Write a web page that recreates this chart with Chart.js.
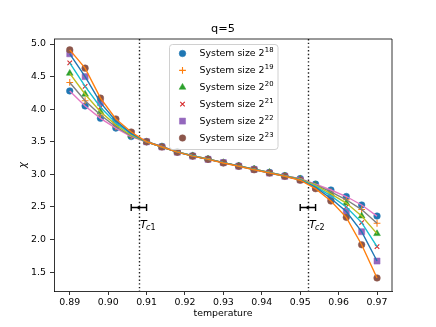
<!DOCTYPE html>
<html>
<head>
<meta charset="utf-8">
<script src="https://cdn.jsdelivr.net/npm/chart.js@4/dist/chart.umd.min.js"></script>
<style>
html,body{margin:0;padding:0;background:#fff;}
canvas{display:block;}
</style>
</head>
<body>
<canvas id="c" width="436" height="327"></canvas>
<script>
// ---- data ----
const temperatures = [0.890, 0.894, 0.898, 0.902, 0.906, 0.910, 0.914, 0.918, 0.922, 0.926, 0.930,
                      0.934, 0.938, 0.942, 0.946, 0.950, 0.954, 0.958, 0.962, 0.966, 0.970];
const chi18 = [4.28, 4.05, 3.86, 3.71, 3.58, 3.50, 3.43, 3.345, 3.285, 3.235, 3.18, 3.13, 3.08, 3.03, 2.98, 2.935, 2.85, 2.76, 2.66, 2.53, 2.36];
const chi19 = [4.41, 4.13, 3.91, 3.73, 3.59, 3.50, 3.43, 3.345, 3.285, 3.235, 3.18, 3.13, 3.08, 3.03, 2.98, 2.93, 2.84, 2.73, 2.61, 2.46, 2.25];
const chi20 = [4.55, 4.23, 3.96, 3.76, 3.60, 3.50, 3.42, 3.345, 3.285, 3.235, 3.18, 3.13, 3.08, 3.03, 2.975, 2.925, 2.83, 2.70, 2.56, 2.36, 2.09];
const chi21 = [4.71, 4.35, 4.03, 3.79, 3.62, 3.50, 3.42, 3.34, 3.285, 3.23, 3.18, 3.13, 3.075, 3.025, 2.975, 2.92, 2.81, 2.67, 2.50, 2.26, 1.89];
const chi22 = [4.85, 4.50, 4.10, 3.82, 3.63, 3.50, 3.42, 3.34, 3.28, 3.23, 3.18, 3.125, 3.075, 3.02, 2.97, 2.915, 2.80, 2.63, 2.43, 2.12, 1.67];
const chi23 = [4.91, 4.63, 4.17, 3.85, 3.65, 3.50, 3.42, 3.34, 3.28, 3.23, 3.175, 3.125, 3.07, 3.02, 2.97, 2.91, 2.78, 2.59, 2.34, 1.92, 1.41];
const seriesExponents = ["18", "19", "20", "21", "22", "23"];
const xTickValues = [0.89, 0.90, 0.91, 0.92, 0.93, 0.94, 0.95, 0.96, 0.97];
const yTickValues = [1.5, 2.0, 2.5, 3.0, 3.5, 4.0, 4.5, 5.0];
const criticalTemps = [0.908, 0.952];
const criticalErrors = [0.002, 0.002];
const criticalLabels = ["1", "2"];
const criticalY = 2.5;
const titleText = "q=5";
const xLabel = "temperature";
const yLabel = "\u03c7";

// ---- styling ----
const allSeries = [chi18, chi19, chi20, chi21, chi22, chi23];
const markerColors = ['#1f77b4', '#ff7f0e', '#2ca02c', '#d62728', '#9467bd', '#8c564b'];
const lineColors = ['#e377c2', '#7f7f7f', '#bcbd22', '#17becf', '#1f77b4', '#ff7f0e'];
const markerStyles = ['circle', 'cross', 'triangle', 'crossRot', 'rect', 'circle'];
const markerRadii = [3.3, 3.4, 3.9, 3.2, 4.3, 3.3];

const FONT = "'DejaVu Sans', sans-serif";

const datasets = [];
allSeries.forEach((s, i) => {
  const pts = temperatures.map((t, k) => ({x: t, y: s[k]}));
  const lined = markerStyles[i] === 'cross' || markerStyles[i] === 'crossRot';
  datasets.push({
    label: 'System size 2^' + seriesExponents[i],
    data: pts,
    showLine: false,
    pointStyle: markerStyles[i],
    pointRadius: markerRadii[i],
    pointBackgroundColor: markerColors[i],
    pointBorderColor: markerColors[i],
    pointBorderWidth: lined ? 1.1 : 0.5,
    order: 30 - i
  });
});
allSeries.forEach((s, i) => {
  const pts = temperatures.map((t, k) => ({x: t, y: s[k]}));
  datasets.push({
    label: 'fit ' + seriesExponents[i],
    data: pts,
    showLine: true,
    pointRadius: 0,
    borderColor: lineColors[i],
    borderWidth: 1.4,
    fill: false,
    tension: 0,
    order: 10 - i
  });
});

function drawMarker(ctx, style, r, color, x, y) {
  ctx.save();
  ctx.fillStyle = color;
  ctx.strokeStyle = color;
  const lined = style === 'cross' || style === 'crossRot';
  ctx.lineWidth = lined ? 1.1 : 0.5;
  Chart.helpers.drawPoint(ctx, {pointStyle: style, radius: r, rotation: 0, borderWidth: ctx.lineWidth}, x, y);
  ctx.restore();
}

const decorPlugin = {
  id: 'decor',
  beforeDatasetsDraw(chart) {
    const ctx = chart.ctx, a = chart.chartArea, xs = chart.scales.x;
    ctx.save();
    ctx.strokeStyle = '#222';
    ctx.lineWidth = 1.4;
    ctx.setLineDash([1.4, 2.3]);
    criticalTemps.forEach(t => {
      const px = Math.round(xs.getPixelForValue(t)) + 0.5;
      ctx.beginPath();
      ctx.moveTo(px, a.top);
      ctx.lineTo(px, a.bottom);
      ctx.stroke();
    });
    ctx.restore();
  },
  afterDatasetsDraw(chart) {
    const ctx = chart.ctx, a = chart.chartArea, xs = chart.scales.x, ys = chart.scales.y;
    ctx.save();
    // error bars
    criticalTemps.forEach((t, i) => {
      const cx = xs.getPixelForValue(t);
      const cy = Math.round(ys.getPixelForValue(criticalY)) + 0.5;
      const x0 = xs.getPixelForValue(t - criticalErrors[i]);
      const x1 = xs.getPixelForValue(t + criticalErrors[i]);
      ctx.strokeStyle = '#000';
      ctx.lineWidth = 1.4;
      ctx.beginPath();
      ctx.moveTo(x0, cy); ctx.lineTo(x1, cy);
      ctx.moveTo(x0, cy - 3.5); ctx.lineTo(x0, cy + 3.5);
      ctx.moveTo(x1, cy - 3.5); ctx.lineTo(x1, cy + 3.5);
      ctx.stroke();
      ctx.fillStyle = '#000';
      ctx.beginPath();
      ctx.arc(cx, cy, 1.6, 0, Math.PI * 2);
      ctx.fill();
      // label T_c
      const lx = cx + 1, base = cy + 20;
      ctx.textBaseline = 'alphabetic';
      ctx.textAlign = 'left';
      ctx.font = "italic 11px " + FONT;
      ctx.fillText('T', lx, base);
      const tw = ctx.measureText('T').width;
      ctx.font = "italic 8px " + FONT;
      ctx.fillText('c', lx + tw - 0.5, base + 2.5);
      const cw = ctx.measureText('c').width;
      ctx.font = "8px " + FONT;
      ctx.fillText(criticalLabels[i], lx + tw - 0.5 + cw, base + 2.5);
    });
    // top and right spines
    ctx.strokeStyle = '#000';
    ctx.lineWidth = 0.8;
    ctx.beginPath();
    ctx.moveTo(a.left, a.top); ctx.lineTo(a.right, a.top); ctx.lineTo(a.right, a.bottom);
    ctx.stroke();
    // title
    ctx.fillStyle = '#000';
    ctx.textAlign = 'center';
    ctx.textBaseline = 'middle';
    ctx.font = "11.3px " + FONT;
    ctx.fillText(titleText, (a.left + a.right) / 2, 29);
    // x label
    ctx.font = "9.4px " + FONT;
    ctx.fillText(xLabel, (a.left + a.right) / 2, 314);
    // y label
    ctx.save();
    ctx.translate(23, (a.top + a.bottom) / 2);
    ctx.rotate(-Math.PI / 2);
    ctx.font = "italic 10px " + FONT;
    ctx.fillText(yLabel, 0, 0);
    ctx.restore();
    // legend
    const lx0 = 169, ly0 = 44, lw = 108.5, lh = 105;
    ctx.beginPath();
    ctx.roundRect(lx0 + 0.5, ly0 + 0.5, lw, lh, 3);
    ctx.fillStyle = 'rgba(255,255,255,0.8)';
    ctx.fill();
    ctx.strokeStyle = '#d0d0d0';
    ctx.lineWidth = 1;
    ctx.stroke();
    seriesExponents.forEach((e, i) => {
      const ey = 53.5 + i * 16.9;
      drawMarker(ctx, markerStyles[i], markerRadii[i], markerColors[i], 182.5, ey);
      ctx.fillStyle = '#000';
      ctx.textAlign = 'left';
      ctx.textBaseline = 'middle';
      ctx.font = "9.4px " + FONT;
      const base = 'System size 2';
      ctx.fillText(base, 199.5, ey + 0.5);
      const w = ctx.measureText(base).width;
      ctx.font = "6.8px " + FONT;
      ctx.fillText(e, 199.5 + w + 0.3, ey - 3.2);
    });
    ctx.restore();
  }
};

new Chart(document.getElementById('c'), {
  type: 'scatter',
  data: {datasets},
  options: {
    responsive: false,
    devicePixelRatio: 1,
    animation: false,
    layout: {padding: {top: 39, right: 44, bottom: 0, left: 0}},
    plugins: {legend: {display: false}, tooltip: {enabled: false}, title: {display: false}},
    scales: {
      x: {
        type: 'linear',
        min: 0.8859, max: 0.9739,
        afterBuildTicks: s => { s.ticks = xTickValues.map(v => ({value: v})); },
        afterFit: s => { s.height = 36; },
        ticks: {callback: v => v.toFixed(2), color: '#000', font: {family: FONT, size: 9.4}, padding: 2, maxRotation: 0, autoSkip: false},
        grid: {display: true, drawOnChartArea: false, drawTicks: true, tickLength: 4, tickColor: '#000', tickWidth: 0.8},
        border: {display: true, color: '#000', width: 0.8}
      },
      y: {
        type: 'linear',
        min: 1.21, max: 5.077,
        afterBuildTicks: s => { s.ticks = yTickValues.map(v => ({value: v})); },
        afterFit: s => { s.width = 54; },
        ticks: {callback: v => v.toFixed(1), color: '#000', font: {family: FONT, size: 9.4}, padding: 4, autoSkip: false},
        grid: {display: true, drawOnChartArea: false, drawTicks: true, tickLength: 4, tickColor: '#000', tickWidth: 0.8},
        border: {display: true, color: '#000', width: 0.8}
      }
    }
  },
  plugins: [decorPlugin]
});
</script>
</body>
</html>
